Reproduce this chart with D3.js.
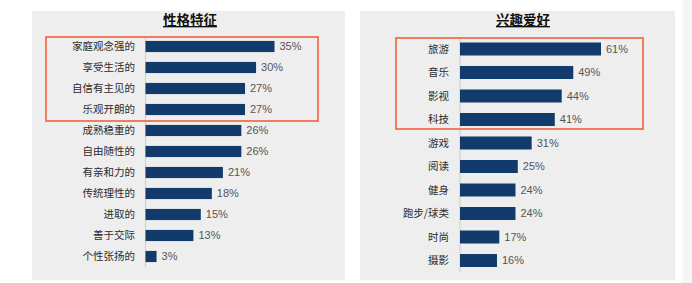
<!DOCTYPE html>
<html>
<head>
<meta charset="utf-8">
<script src="https://cdn.jsdelivr.net/npm/d3@7"></script>
<style>
  body { margin: 0; background: #fff; }
  svg { display: block; font-family: "Noto Sans CJK SC", "Noto Sans", sans-serif; }
</style>
</head>
<body>
<svg id="chart" width="692" height="283"></svg>
<script>
// data
const traitLabels = ['家庭观念强的', '享受生活的', '自信有主见的', '乐观开朗的', '成熟稳重的', '自由随性的',
  '有亲和力的', '传统理性的', '进取的', '善于交际', '个性张扬的'];
const traitValues = [35, 30, 27, 27, 26, 26, 21, 18, 15, 13, 3];

const hobbyLabels = ['旅游', '音乐', '影视', '科技', '游戏', '阅读', '健身', '跑步/球类', '时尚', '摄影'];
const hobbyValues = [61, 49, 44, 41, 31, 25, 24, 24, 17, 16];

const svg = d3.select('#chart');
const barColor = '#123b6b';

// faint strip at the right edge
svg.append('rect')
  .attr('x', 683).attr('y', 0).attr('width', 9).attr('height', 283)
  .attr('fill', '#f5f5f5');

function drawPanel(opt) {
  const g = svg.append('g');

  g.append('rect')
    .attr('x', opt.left).attr('y', 11)
    .attr('width', opt.width).attr('height', 269)
    .attr('fill', '#eeeeee');

  g.append('text')
    .attr('x', opt.titleX).attr('y', 25)
    .attr('text-anchor', 'middle')
    .attr('font-size', '13.5px')
    .attr('font-weight', 'bold')
    .attr('fill', '#111')
    .style('text-decoration', 'underline')
    .text(opt.title);

  const x = d3.scaleLinear()
    .domain([0, opt.maxVal])
    .range([opt.x0, opt.x0 + opt.maxLen]);

  const y = d3.scaleBand()
    .domain(opt.labels)
    .range(opt.yRange)
    .paddingInner(opt.pad)
    .paddingOuter(opt.pad / 2);

  const data = opt.labels.map((d, i) => ({label: d, value: opt.values[i]}));

  // axis line
  g.append('line')
    .attr('x1', opt.x0).attr('x2', opt.x0)
    .attr('y1', opt.yRange[0]).attr('y2', opt.yRange[1])
    .attr('stroke', '#cccccc');

  g.selectAll('.bar')
    .data(data)
    .enter()
    .append('rect')
    .attr('class', 'bar')
    .attr('x', x(0))
    .attr('y', d => y(d.label))
    .attr('width', d => x(d.value) - x(0))
    .attr('height', y.bandwidth())
    .attr('fill', barColor);

  g.selectAll('.lbl')
    .data(data)
    .enter()
    .append('text')
    .attr('class', 'lbl')
    .attr('x', opt.labelX)
    .attr('y', d => y(d.label) + y.bandwidth() / 2)
    .attr('dy', '0.36em')
    .attr('text-anchor', 'end')
    .attr('font-size', '10.5px')
    .attr('fill', '#2b2b2b')
    .text(d => d.label);

  g.selectAll('.val')
    .data(data)
    .enter()
    .append('text')
    .attr('class', 'val')
    .attr('x', d => x(d.value) + 5)
    .attr('y', d => y(d.label) + y.bandwidth() / 2)
    .attr('dy', '0.36em')
    .attr('font-size', '11px')
    .attr('font-family', '"Liberation Sans", Arial, sans-serif')
    .attr('fill', '#555')
    .text(d => d.value + '%');

  // highlight box
  g.append('rect')
    .attr('x', opt.box[0]).attr('y', opt.box[1])
    .attr('width', opt.box[2] - opt.box[0])
    .attr('height', opt.box[3] - opt.box[1])
    .attr('fill', 'none')
    .attr('stroke', '#f0603f')
    .attr('stroke-width', 1.6);
}

drawPanel({
  title: '性格特征', titleX: 190,
  left: 32, width: 313,
  labels: traitLabels, values: traitValues,
  maxVal: 35, maxLen: 129, x0: 145.5, labelX: 135,
  yRange: [36, 267], pad: 0.47,
  box: [46, 37, 318, 121]
});

drawPanel({
  title: '兴趣爱好', titleX: 523,
  left: 360, width: 315,
  labels: hobbyLabels, values: hobbyValues,
  maxVal: 61, maxLen: 141, x0: 460, labelX: 449,
  yRange: [37.25, 272.25], pad: 0.447,
  box: [396, 38, 643, 129]
});
</script>
</body>
</html>
